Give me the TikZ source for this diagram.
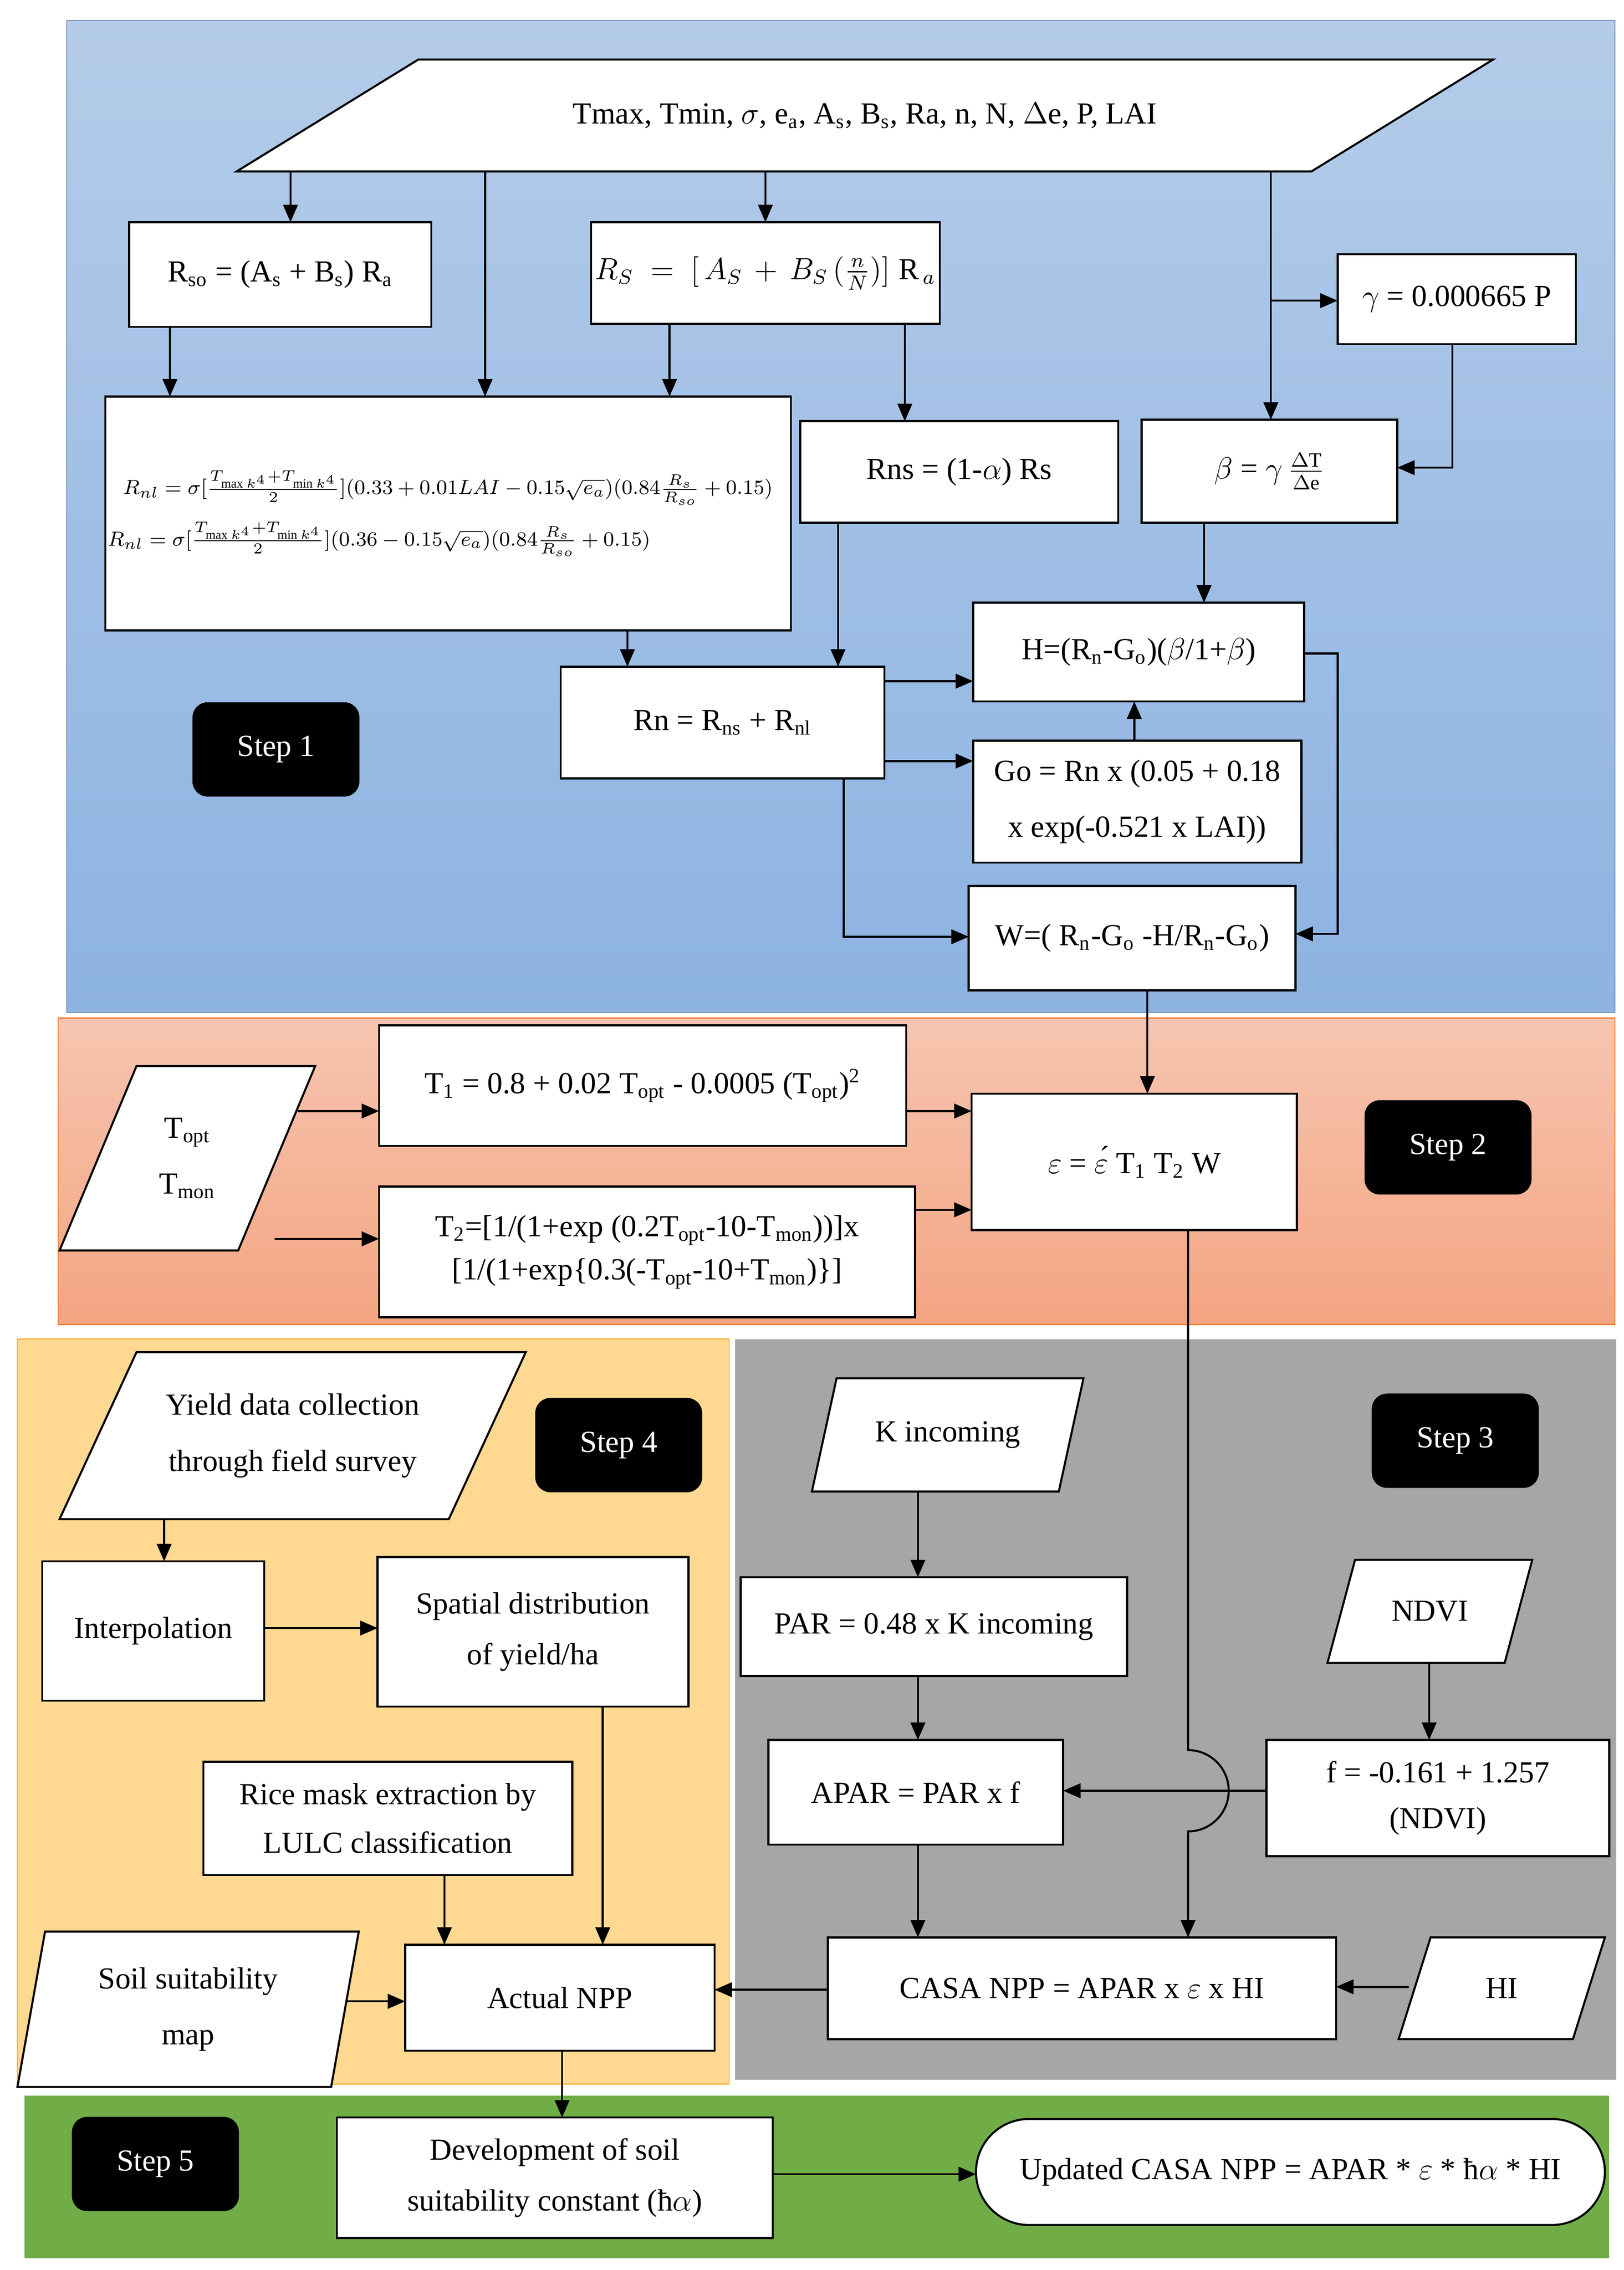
\documentclass[tikz,border=0pt]{standalone}
\usepackage{amsmath}
\usepackage{fontspec}
\setmainfont{Liberation Serif}
\usetikzlibrary{arrows.meta}

\definecolor{bluetop}{HTML}{B4CCE9}
\definecolor{bluebot}{HTML}{8DB3E2}
\definecolor{orgtop}{HTML}{F6C5B0}
\definecolor{orgbot}{HTML}{F4A582}
\definecolor{orgline}{HTML}{ED7D31}
\definecolor{yelfill}{HTML}{FFD891}
\definecolor{yelline}{HTML}{F4B942}
\definecolor{grayfill}{HTML}{A6A6A6}
\definecolor{greenfill}{HTML}{70AD47}

\tikzset{
  box/.style={draw, fill=white, thick, inner sep=1pt, outer sep=0pt, align=center,
    font=\fontsize{12}{22}\selectfont},
  stepbox/.style={fill=black, text=white, rounded corners=6pt, minimum width=2.3cm,
    minimum height=1.3cm, font=\fontsize{12}{14}\selectfont},
  arr/.style={thick, -{Triangle[length=2.4mm,width=2mm]}},
}

% box by corners (reference pixels)
\newcommand\bx[7][]{%
  \pgfmathsetmacro\bw{(#5-#3)*0.02}\pgfmathsetmacro\bh{(#6-#4)*0.02}%
  \node[box,#1,minimum width=\bw cm,minimum height=\bh cm] (#2) at ({(#3+#5)/2},{(#4+#6)/2}) {#7};}
% parallelogram by corners and slant
\newcommand\pa[8][]{%
  \draw[thick, fill=white] (#3,#5) -- ({#3+#7},#4) -- (#6,#4) -- ({#6-#7},#5) -- cycle;
  \pgfmathsetmacro\bw{(#6-#3)*0.02}\pgfmathsetmacro\bh{(#5-#4)*0.02}%
  \node[box,draw=none,fill=none,#1,minimum width=\bw cm,minimum height=\bh cm] (#2) at ({(#3+#6)/2},{(#4+#5)/2}) {#8};}

\begin{document}
\begin{tikzpicture}[x=0.02cm, y=-0.02cm]
    \useasboundingbox (0,0) rectangle (1118,1563);

    % backgrounds
    \shade[top color=bluetop, bottom color=bluebot, draw=bluebot!80!black] (46,14) rectangle (1112,697);
    \shade[top color=orgtop, bottom color=orgbot, draw=orgline] (40,701) rectangle (1112,912);
    \filldraw[fill=yelfill, draw=yelline] (12,922) rectangle (502,1435);
    \fill[grayfill] (506,922) rectangle (1113,1432);
    \fill[greenfill] (17,1443) rectangle (1108,1555);

    % Step 1
    \pa{inp}{163}{41}{118}{1028}{125}{Tmax, Tmin, $\sigma$, e\textsubscript{a}, A\textsubscript{s}, B\textsubscript{s}, Ra, n, N, $\Delta$e, P, LAI}
    \bx{rso}{89}{153}{297}{225}{R\textsubscript{so} = (A\textsubscript{s} + B\textsubscript{s}) R\textsubscript{a}}
    \bx{rs}{407}{153}{647}{223}{$R_S \;=\; [\,A_S \,+\, B_S\,(\frac{n}{N})]\;\mathrm{R}_{\,a}$}
    \bx{gam}{921}{175}{1085}{237}{$\gamma$ = 0.000665 P}
    \bx[font=\footnotesize]{rnl}{75}{273}{542}{434}{%
      $R_{nl}=\sigma[\frac{T_{\max k^4}+T_{\min k^4}}{2}](0.33+0.01LAI-0.15\sqrt{e_a})(0.84\frac{R_s}{R_{so}}+0.15)$\\[2mm]
      $R_{nl}=\sigma[\frac{T_{\max k^4}+T_{\min k^4}}{2}](0.36-0.15\sqrt{e_a})(0.84\frac{R_s}{R_{so}}+0.15)$\hspace*{1.9cm}}
    \bx{rns}{551}{290}{770}{360}{Rns = (1-$\alpha$) Rs}
    \bx{bet}{786}{289}{962}{360}{$\beta$ = $\gamma\,\frac{\Delta\mathrm{T}}{\Delta\mathrm{e}}$}
    \bx{hh}{670}{415}{898}{483}{H=(R\textsubscript{n}-G\textsubscript{o})($\beta$/1+$\beta$)}
    \bx{rn}{386}{459}{609}{536}{Rn = R\textsubscript{ns} + R\textsubscript{nl}}
    \bx{go}{670}{510}{896}{594}{Go = Rn x (0.05 + 0.18\\x exp(-0.521 x LAI))}
    \bx{ww}{667}{610}{892}{682}{W=( R\textsubscript{n}-G\textsubscript{o} -H/R\textsubscript{n}-G\textsubscript{o})}
    \node[stepbox] (s1) at (190,516) {Step 1};

    \draw[arr] (inp.south -| 200,0) -- (rso.north -| 200,0);
    \draw[arr] (inp.south -| 334,0) -- (rnl.north -| 334,0);
    \draw[arr] (inp.south -| 527,0) -- (rs.north -| 527,0);
    \draw[arr] (inp.south -| 875,0) -- (bet.north -| 875,0);
    \draw[arr] (875,207) -- (gam.west |- 875,207);
    \draw[arr] (rso.south -| 117,0) -- (rnl.north -| 117,0);
    \draw[arr] (rs.south -| 461,0) -- (rnl.north -| 461,0);
    \draw[arr] (rs.south -| 623,0) -- (rns.north -| 623,0);
    \draw[arr] (gam.south -| 1000,0) |- (bet.east |- 0,322);
    \draw[arr] (rnl.south -| 432,0) -- (rn.north -| 432,0);
    \draw[arr] (rns.south -| 577,0) -- (rn.north -| 577,0);
    \draw[arr] (bet.south -| 829,0) -- (hh.north -| 829,0);
    \draw[arr] (rn.east |- 0,469) -- (hh.west |- 0,469);
    \draw[arr] (rn.east |- 0,524) -- (go.west |- 0,524);
    \draw[arr] (go.north -| 781,0) -- (hh.south -| 781,0);
    \draw[arr] (rn.south -| 581,0) |- (ww.west |- 0,645);
    \draw[arr] (hh.east |- 0,450) -- (921,450) |- (ww.east |- 0,643);

    % Step 2
    \pa{topt}{41}{734}{861}{217}{53}{T\textsubscript{opt}\\T\textsubscript{mon}}
    \bx{t1}{261}{706}{624}{789}{T\textsubscript{1} = 0.8 + 0.02 T\textsubscript{\textsc{opt}} - 0.0005 (T\textsubscript{\textsc{opt}})\textsuperscript{2}}
    \bx[font=\fontsize{12}{17}\selectfont]{t2}{261}{817}{630}{907}{T\textsubscript{2}=[1/(1+exp (0.2T\textsubscript{\textsc{opt}}-10-T\textsubscript{\textsc{mon}}))]x\\\relax[1/(1+exp\{0.3(-T\textsubscript{\textsc{opt}}-10+T\textsubscript{\textsc{mon}})\}]}
    \bx{eps}{669}{753}{893}{847}{$\varepsilon$ = \'{$\varepsilon$} T\textsubscript{1} T\textsubscript{2} W}
    \node[stepbox] (s2) at (997,790) {Step 2};

    \draw[arr] (ww.south -| 790,0) -- (eps.north -| 790,0);
    \draw[arr] (205,765) -- (t1.west |- 0,765);
    \draw[arr] (189,853) -- (t2.west |- 0,853);
    \draw[arr] (t1.east |- 0,765) -- (eps.west |- 0,765);
    \draw[arr] (t2.east |- 0,833) -- (eps.west |- 0,833);

    % Step 3
    \pa{kin}{559}{949}{1027}{746}{17}{K incoming}
    \bx{par}{510}{1086}{776}{1154}{PAR = 0.48 x K incoming}
    \pa{ndvi}{914}{1074}{1145}{1055}{19}{NDVI}
    \bx{apar}{529}{1198}{732}{1270}{APAR = PAR x f}
    \bx[font=\fontsize{12}{18}\selectfont]{ff}{872}{1198}{1108}{1278}{f = -0.161 + 1.257\\(NDVI)}
    \bx{casa}{570}{1334}{920}{1404}{CASA NPP = APAR x $\varepsilon$ x HI}
    \pa{hi}{963}{1334}{1404}{1105}{22}{HI}
    \node[stepbox] (s3) at (1002,992) {Step 3};

    \draw[arr] (kin.south -| 632,0) -- (par.north -| 632,0);
    \draw[arr] (par.south -| 632,0) -- (apar.north -| 632,0);
    \draw[arr] (apar.south -| 632,0) -- (casa.north -| 632,0);
    \draw[arr] (ndvi.south -| 984,0) -- (ff.north -| 984,0);
    \draw[arr] (ff.west |- 0,1233) -- (apar.east |- 0,1233);
    \draw[arr] (970,1368) -- (casa.east |- 0,1368);
    \coordinate (hop) at (818,1233);
    \draw[arr] (eps.south -| hop) -- ([yshift=0.56cm]hop) arc (90:-90:0.56cm) -- (casa.north -| hop);

    % Step 4
    \pa{yld}{41}{931}{1046}{362}{53}{Yield data collection\\through field survey}
    \bx{intp}{29}{1075}{182}{1171}{Interpolation}
    \bx[font=\fontsize{12}{20}\selectfont]{spat}{260}{1072}{474}{1175}{Spatial distribution\\of yield/ha}
    \bx[font=\fontsize{12}{19}\selectfont]{rice}{140}{1213}{394}{1291}{Rice mask extraction by\\LULC classification}
    \pa{soil}{12}{1330}{1437}{247}{19}{Soil suitability\\map}
    \bx{anpp}{279}{1339}{492}{1412}{Actual NPP}
    \node[stepbox] (s4) at (426,995) {Step 4};

    \draw[arr] (yld.south -| 113,0) -- (intp.north -| 113,0);
    \draw[arr] (intp.east |- 0,1121) -- (spat.west |- 0,1121);
    \draw[arr] (spat.south -| 415,0) -- (anpp.north -| 415,0);
    \draw[arr] (rice.south -| 306,0) -- (anpp.north -| 306,0);
    \draw[arr] (238,1378) -- (anpp.west |- 0,1378);
    \draw[arr, {Triangle[length=2.4mm,width=2mm]}-] (anpp.east |- 0,1370) -- (casa.west |- 0,1370);

    % Step 5
    \bx[font=\fontsize{12}{20}\selectfont]{dev}{232}{1458}{532}{1541}{Development of soil\\suitability constant (ħ$\alpha$)}
    \bx[rounded corners=0.73cm]{upd}{672}{1459}{1105}{1532}{Updated CASA NPP = APAR * $\varepsilon$ * ħ$\alpha$ * HI}
    \node[stepbox] (s5) at (107,1490) {Step 5};

    \draw[arr] (anpp.south -| 387,0) -- (dev.north -| 387,0);
    \draw[arr] (dev.east |- 0,1497) -- (upd.west |- 0,1497);
\end{tikzpicture}
\end{document}
